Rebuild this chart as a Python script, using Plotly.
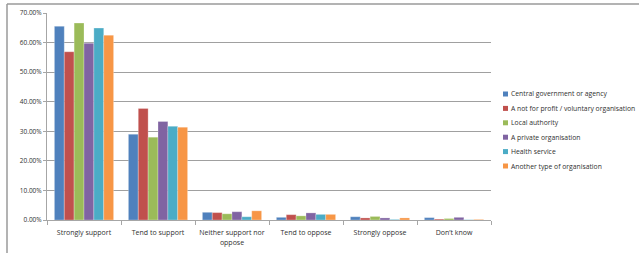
import plotly.graph_objects as go

categories = ["Strongly support", "Tend to support", "Neither support nor<br>oppose",
              "Tend to oppose", "Strongly oppose", "Don\u2019t know"]

series_names = ["Central government or agency",
                "A not for profit / voluntary organisation",
                "Local authority",
                "A private organisation",
                "Health service",
                "Another type of organisation"]

central_gov = [65.5, 29.0, 2.6, 0.9, 1.1, 0.8]
not_for_profit = [56.9, 37.7, 2.5, 1.8, 0.7, 0.3]
local_authority = [66.6, 28.0, 2.1, 1.4, 1.2, 0.5]
private_org = [59.8, 33.3, 2.8, 2.4, 0.7, 0.9]
health_service = [64.9, 31.7, 1.1, 1.9, 0.2, 0.1]
another_type = [62.5, 31.4, 3.1, 1.9, 0.7, 0.2]

series_values = [central_gov, not_for_profit, local_authority,
                 private_org, health_service, another_type]
colors = ["#4F81BD", "#C0504D", "#9BBB59", "#8064A2", "#4BACC6", "#F79646"]

fig = go.Figure()
for name, vals, col in zip(series_names, series_values, colors):
    fig.add_trace(go.Bar(
        x=categories, y=vals, name=name, showlegend=False,
        marker=dict(color=col, line=dict(color="rgba(255,255,255,0.45)", width=0.6)),
    ))

W, H = 639, 253
L, R, T, B = 47, 148, 13, 33
pw, ph = W - L - R, H - T - B

def px(x):
    return (x - L) / pw

def py(y):
    return (H - B - y) / ph

FONT = "Open Sans, Liberation Sans, sans-serif"
TXT = "#303030"

shapes = [
    dict(type="line", xref="paper", yref="paper", x0=px(7), x1=px(W),
         y0=py(4), y1=py(4), line=dict(color="#9A9A9A", width=1.5)),
    dict(type="line", xref="paper", yref="paper", x0=px(7), x1=px(7),
         y0=py(4), y1=py(H), line=dict(color="#9A9A9A", width=1.5)),
]
annotations = []

# custom legend (compact like the reference)
leg_x, leg_y0, leg_dy = 503, 94, 14.4
for i, (name, col) in enumerate(zip(series_names, colors)):
    yc = leg_y0 + i * leg_dy
    shapes.append(dict(type="rect", xref="paper", yref="paper",
                       x0=px(leg_x), x1=px(leg_x + 5), y0=py(yc + 2.5), y1=py(yc - 2.5),
                       fillcolor=col, line=dict(width=0)))
    annotations.append(dict(text=name, xref="paper", yref="paper",
                            x=px(leg_x + 6), y=py(yc), xanchor="left", yanchor="middle",
                            showarrow=False, font=dict(family=FONT, size=6.8, color=TXT)))

fig.update_layout(
    width=W, height=H,
    margin=dict(l=L, r=R, t=T, b=B),
    barmode="group", bargap=0.2, bargroupgap=0,
    plot_bgcolor="white", paper_bgcolor="white",
    font=dict(family=FONT, size=7, color=TXT),
    showlegend=False,
    xaxis=dict(showline=True, linecolor="#A6A6A6", linewidth=1,
               ticks="outside", tickson="boundaries", ticklen=4, tickcolor="#A6A6A6",
               tickangle=0, automargin=False, ticklabelstandoff=6,
               tickfont=dict(family=FONT, size=7, color=TXT), fixedrange=True),
    yaxis=dict(range=[0, 70], dtick=10, tickformat=".2f", ticksuffix="%",
               showgrid=True, gridcolor="#A0A0A0", gridwidth=1,
               showline=True, linecolor="#A6A6A6", linewidth=1,
               ticks="outside", ticklen=3, tickcolor="#A6A6A6", automargin=False,
               tickfont=dict(family=FONT, size=6.5, color=TXT), zeroline=False),
    shapes=shapes,
    annotations=annotations,
)

fig.write_html("out.html", config={"displayModeBar": False},
               post_script="document.body.style.margin='0';")
